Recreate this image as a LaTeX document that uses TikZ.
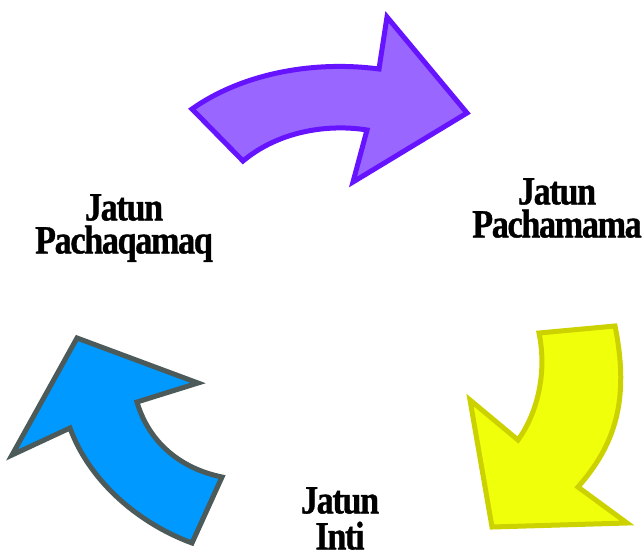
\documentclass[tikz,border=0pt]{standalone}
\usepackage{fontspec}
\setmainfont{Liberation Serif}
\newfontfamily\labelfont[FakeBold=1,LetterSpace=-4]{Liberation Serif Bold}
\definecolor{purpfill}{HTML}{9966FF}
\definecolor{purpline}{HTML}{6614FF}
\definecolor{yelfill}{HTML}{F0FF0A}
\definecolor{yelline}{HTML}{CCD200}
\definecolor{bluefill}{HTML}{0099FF}
\definecolor{blueline}{HTML}{4D5A5A}
\begin{document}
\begin{tikzpicture}[x=1pt,y=-1pt,
  arrowshape/.style={line width=5pt, line join=miter},
  label/.style={font=\labelfont\fontsize{40}{33}\selectfont, align=center, anchor=north, inner sep=0pt, xscale=0.855}]
\useasboundingbox (0,0) rectangle (644,554);
% purple arrow (top)
\draw[arrowshape, draw=purpline, fill=purpfill]
  (192,109) .. controls (240,75) and (310,60) .. (379,69) -- (387,17) -- (467,113)
  -- (353,182) -- (367,130) .. controls (330,124) and (280,130) .. (243,161) -- cycle;
% yellow arrow (right)
\draw[arrowshape, draw=yelline, fill=yelfill]
  (539,333) -- (615,326) .. controls (630,400) and (615,445) .. (578,487) -- (627,523)
  -- (492,527) -- (470,400) -- (518,440) .. controls (538,412) and (547,372) .. (539,333) -- cycle;
% blue arrow (left)
\draw[arrowshape, draw=blueline, fill=bluefill]
  (77,338) -- (198,383) -- (137,402) .. controls (148,440) and (178,468) .. (222,477)
  -- (192,543) .. controls (135,522) and (88,478) .. (70,428) -- (12,455) -- cycle;
% labels
\node[label] (pachaqamaq) at (124,194) {Jatun\\Pachaqamaq};
\node[label] (pachamama) at (557,178) {Jatun\\Pachamama};
\node[label, font=\labelfont\fontsize{40}{36}\selectfont] (inti) at (340,487) {Jatun\\Inti};
\end{tikzpicture}
\end{document}
